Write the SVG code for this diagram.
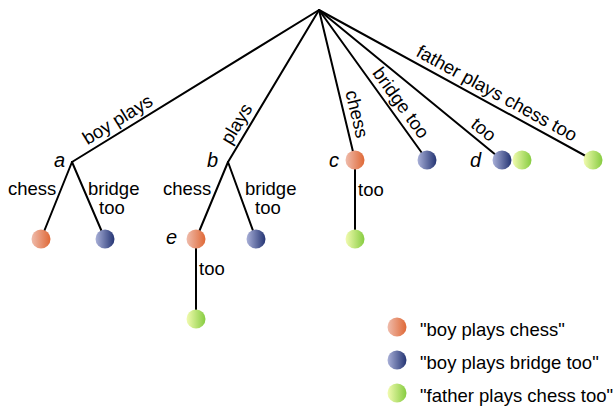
<svg xmlns="http://www.w3.org/2000/svg" width="613" height="408" viewBox="0 0 613 408">
<defs>
<linearGradient id="gOr" x1="0" y1="0" x2="1" y2="0"><stop offset="0" stop-color="#efbcac"/><stop offset="1" stop-color="#df6836"/></linearGradient>
<linearGradient id="gBl" x1="0" y1="0" x2="1" y2="0"><stop offset="0" stop-color="#a9b0d8"/><stop offset="1" stop-color="#243473"/></linearGradient>
<linearGradient id="gGr" x1="0" y1="0" x2="1" y2="0"><stop offset="0" stop-color="#f2fbb0"/><stop offset="1" stop-color="#86cc40"/></linearGradient>
</defs>
<style>
.e{stroke:#000;stroke-width:2;fill:none;stroke-linecap:round}
text{font-family:"Liberation Sans",Arial,Helvetica,sans-serif;font-size:18.5px;fill:#000}
.lab{font-style:italic;font-size:20px}
.or{fill:url(#gOr)}.bl{fill:url(#gBl)}.gr{fill:url(#gGr)}
</style>
<g id="connectors">
<line class="e" x1="319" y1="10" x2="72" y2="162"/>
<line class="e" x1="319" y1="10" x2="228" y2="162"/>
<line class="e" x1="319" y1="10" x2="355" y2="160"/>
<line class="e" x1="319" y1="10" x2="427" y2="160"/>
<line class="e" x1="319" y1="10" x2="502" y2="160"/>
<line class="e" x1="319" y1="10" x2="593" y2="160"/>
<line class="e" x1="72" y1="162" x2="41" y2="239"/>
<line class="e" x1="72" y1="162" x2="105" y2="239"/>
<line class="e" x1="228" y1="162" x2="196" y2="239"/>
<line class="e" x1="228" y1="162" x2="256" y2="239"/>
<line class="e" x1="196" y1="239" x2="196" y2="319"/>
<line class="e" x1="355" y1="160" x2="355" y2="239"/>
<text transform="translate(124,130) rotate(-31.6)" y="-6" text-anchor="middle">boy plays</text>
<text transform="translate(247,130) rotate(-59.1)" y="-6" text-anchor="middle">plays</text>
<text transform="translate(345,117) rotate(76.5)" y="-6" text-anchor="middle">chess</text>
<text transform="translate(391,110) rotate(54.2)" y="-6" text-anchor="middle">bridge too</text>
<text transform="translate(476,139) rotate(39.3)" y="-6" text-anchor="middle">too</text>
<text transform="translate(491,104) rotate(28.7)" y="-6" text-anchor="middle">father plays chess too</text>
<text x="8" y="195">chess</text>
<text x="88" y="195">bridge</text>
<text x="99" y="214">too</text>
<text x="163" y="195">chess</text>
<text x="245" y="195">bridge</text>
<text x="255" y="214">too</text>
<text x="199" y="275">too</text>
<text x="358" y="196">too</text>
</g>
<g id="node-root"><circle cx="319" cy="10" r="0.5" fill="#000"/></g>
<g id="node-a"><text class="lab" x="54" y="167">a</text></g>
<g id="node-b"><text class="lab" x="207" y="167">b</text></g>
<g id="node-c"><circle class="or" cx="355" cy="160" r="9.5"/><text class="lab" x="329" y="167">c</text></g>
<g id="node-d"><circle class="bl" cx="502" cy="160" r="9.5"/><circle class="gr" cx="522" cy="160" r="9.5"/><text class="lab" x="470" y="167">d</text></g>
<g id="node-e"><circle class="or" cx="196" cy="239" r="9.5"/><text class="lab" x="166" y="244">e</text></g>
<g id="leaf-a-chess"><circle class="or" cx="41" cy="239" r="9.5"/></g>
<g id="leaf-a-bridge"><circle class="bl" cx="105" cy="239" r="9.5"/></g>
<g id="leaf-b-bridge"><circle class="bl" cx="256" cy="239" r="9.5"/></g>
<g id="leaf-e-too"><circle class="gr" cx="196" cy="319" r="9.5"/></g>
<g id="leaf-c-too"><circle class="gr" cx="355" cy="239" r="9.5"/></g>
<g id="leaf-bridge-too"><circle class="bl" cx="427" cy="160" r="9.5"/></g>
<g id="leaf-father"><circle class="gr" cx="593" cy="160" r="9.5"/></g>
<g id="legend">
<circle class="or" cx="397" cy="327" r="9.5"/><text x="420" y="336">"boy plays chess"</text>
<circle class="bl" cx="397" cy="360" r="9.5"/><text x="420" y="369">"boy plays bridge too"</text>
<circle class="gr" cx="397" cy="393" r="9.5"/><text x="420" y="402">"father plays chess too"</text>
</g>
</svg>
